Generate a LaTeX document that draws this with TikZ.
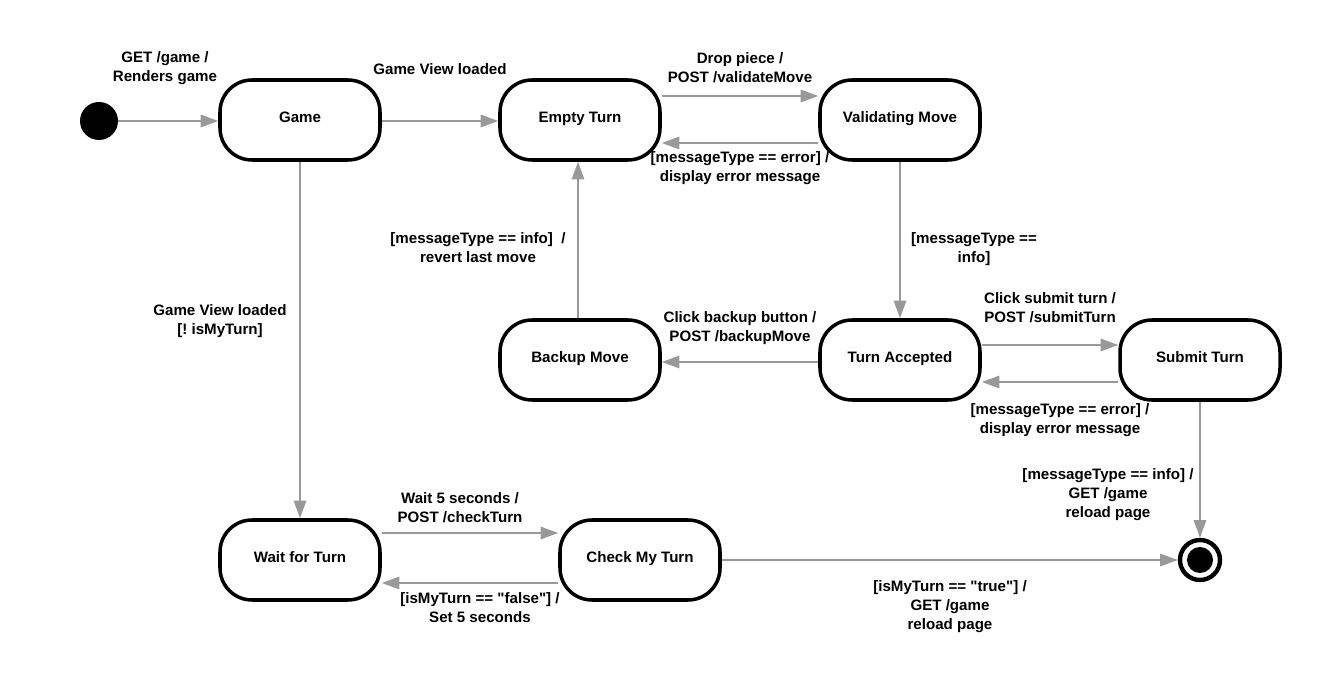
\documentclass[tikz,border=0pt]{standalone}
\usepackage{fontspec}
\setmainfont{Liberation Sans}
\usetikzlibrary{arrows.meta,shapes.misc}
\frenchspacing
\begin{document}
\begin{tikzpicture}[x=0.02cm,y=-0.02cm,
  state/.style={draw=black,line width=2pt,rounded corners=32*0.02cm,minimum width=160*0.02cm,minimum height=80*0.02cm,fill=white,font=\bfseries\fontsize{8.6}{10.8}\selectfont,inner sep=0pt,text height=6.5pt,text depth=4pt},
  edge/.style={draw=black!40,line width=1.1pt,-{Triangle[length=10pt,width=7pt]}},
  lbl/.style={font=\bfseries\fontsize{8.6}{10.8}\selectfont,align=center,inner sep=0pt}]
\useasboundingbox (0,0) rectangle (1320,692);
\fill[white] (0,0) rectangle (1320,692);
\node[circle,fill=black,minimum size=38*0.02cm,inner sep=0pt] (init) at (99,121) {};
\node[state] (game) at (300,120) {Game};
\node[state] (empty) at (580,120) {Empty Turn};
\node[state] (valid) at (900,120) {Validating Move};
\node[state] (backup) at (580,360) {Backup Move};
\node[state] (accepted) at (900,360) {Turn Accepted};
\node[state] (submit) at (1200,360) {Submit Turn};
\node[state] (wait) at (300,560) {Wait for Turn};
\node[state] (check) at (640,560) {Check My Turn};
\node[circle,draw=black,line width=2.5pt,fill=white,minimum size=40*0.02cm,inner sep=0pt] (final) at (1200,560) {};
\node[circle,fill=black,minimum size=26*0.02cm,inner sep=0pt] (finalin) at (1200,560) {};

\draw[edge] (init.east) -- (game.west |- init.east);
\draw[edge] (game.east |- 0,121) -- (empty.west |- 0,121);
\draw[edge] (empty.east |- 0,96) -- (valid.west |- 0,96);
\draw[edge] (valid.west |- 0,143) -- (empty.east |- 0,143);
\draw[edge] (valid.south) -- (accepted.north);
\draw[edge] (accepted.east |- 0,345) -- (submit.west |- 0,345);
\draw[edge] (submit.west |- 0,382) -- (accepted.east |- 0,382);
\draw[edge] (accepted.west |- 0,362) -- (backup.east |- 0,362);
\draw[edge] (backup.north -| 578,0) -- (empty.south -| 578,0);
\draw[edge] (game.south) -- (wait.north);
\draw[edge] (wait.east |- 0,533) -- (check.west |- 0,533);
\draw[edge] (check.west |- 0,583) -- (wait.east |- 0,583);
\draw[edge] (check.east |- 0,560) -- (final.west);
\draw[edge] (submit.south) -- (final.north);

\node[lbl] (l1) at (165,68) {GET /game /\\Renders game};
\node[lbl] (l2) at (440,69) {Game View loaded};
\node[lbl] (l3) at (740,68) {Drop piece /\\POST /validateMove};
\node[lbl] (l4) at (740,168) {[messageType == error] /\\display error message};
\node[lbl] (l5) at (974,249) {[messageType ==\\info]};
\node[lbl] (l6) at (1050,308) {Click submit turn /\\POST /submitTurn};
\node[lbl] (l7) at (1060,420) {[messageType == error] /\\display error message};
\node[lbl] (l8) at (740,328) {Click backup button /\\POST /backupMove};
\node[lbl] (l9) at (478,248) {[messageType == info]~~/\\revert last move};
\node[lbl] (l10) at (220,321) {Game View loaded\\{[! isMyTurn]}};
\node[lbl] (l11) at (460,508) {Wait 5 seconds /\\POST /checkTurn};
\node[lbl] (l12) at (480,608) {[isMyTurn == \textquotedbl false\textquotedbl] /\\Set 5 seconds};
\node[lbl] (l13) at (950,607) {[isMyTurn == \textquotedbl true\textquotedbl] /\\GET /game\\reload page};
\node[lbl] (l14) at (1108,495) {[messageType == info] /\\GET /game\\reload page};
\end{tikzpicture}
\end{document}
